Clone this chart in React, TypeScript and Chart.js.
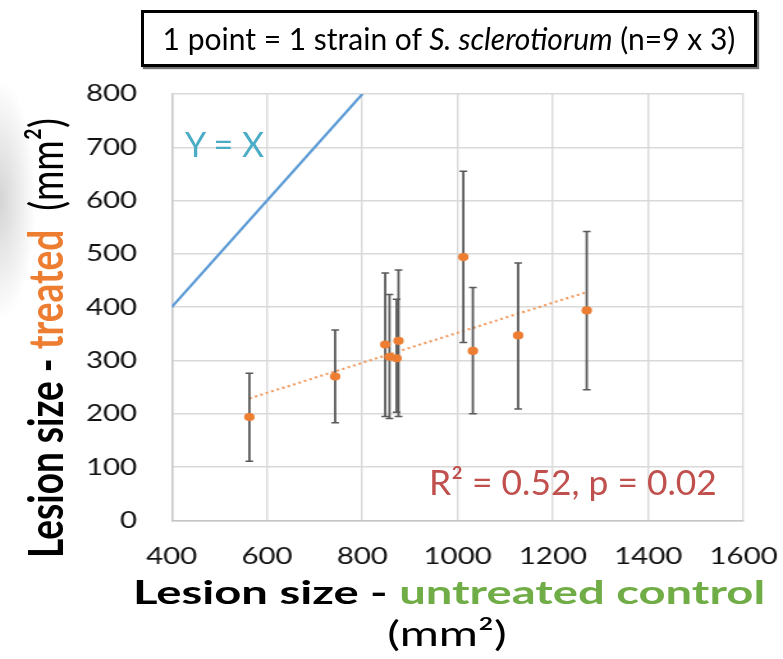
import React, { useEffect, useRef } from "react";
import { Chart, registerables } from "chart.js";

Chart.register(...registerables);

// ---- data ----
const controlX = [563, 743, 848, 857, 876, 872, 1012, 1032, 1127, 1271];
const treatedY = [194, 270, 330, 307, 337, 304, 494, 318, 347, 394];
const errLow = [111, 183, 195, 191, 195, 203, 334, 200, 209, 245];
const errHigh = [276, 357, 464, 424, 470, 415, 655, 437, 483, 542];
const identityX = [400, 800];
const xRange = [400, 1600];
const yRange = [0, 800];
const xStep = 200;
const yStep = 100;

// ---- layout ----
const STRETCH = 783 / 612;
const W0 = 612;
const H = 659;
const AREA_LEFT = 171.7 / STRETCH;
const AREA_RIGHT = 743.5 / STRETCH;
const AREA_TOP = 94;
const AREA_BOTTOM = 520.4;

function leastSquares(xs: number[], ys: number[]) {
  const n = xs.length;
  const mx = xs.reduce((a, b) => a + b, 0) / n;
  const my = ys.reduce((a, b) => a + b, 0) / n;
  let sxy = 0;
  let sxx = 0;
  for (let i = 0; i < n; i++) {
    sxy += (xs[i] - mx) * (ys[i] - my);
    sxx += (xs[i] - mx) * (xs[i] - mx);
  }
  const slope = sxy / sxx;
  return { slope, intercept: my - slope * mx };
}

export default function App() {
  const ref = useRef<HTMLCanvasElement>(null);

  useEffect(() => {
    if (!ref.current) return;
    const fit = leastSquares(controlX, treatedY);
    const xMin = Math.min(...controlX);
    const xMax = Math.max(...controlX);
    const trend = [
      { x: xMin, y: fit.intercept + fit.slope * xMin },
      { x: xMax, y: fit.intercept + fit.slope * xMax },
    ];
    const points = controlX.map((x, i) => ({ x, y: treatedY[i] }));
    const errorSets = controlX.map((x, i) => ({
      type: "line" as const,
      data: [
        { x, y: errLow[i] },
        { x, y: errHigh[i] },
      ],
      borderColor: "#595959",
      borderWidth: 1.8,
      pointStyle: "line" as const,
      pointRadius: 3,
      pointBorderWidth: 1.5,
      pointBorderColor: "#595959",
      pointBackgroundColor: "#595959",
      order: 1,
    }));

    const chart = new Chart(ref.current, {
      type: "scatter",
      data: {
        datasets: [
          {
            type: "scatter",
            data: points,
            backgroundColor: "#ED7D31",
            borderColor: "#ED7D31",
            pointRadius: 4.1,
            pointBorderWidth: 0,
            order: 0,
          },
          ...errorSets,
          {
            type: "line",
            data: trend,
            borderColor: "#F29B5E",
            borderWidth: 2.2,
            borderDash: [2, 2.6],
            pointRadius: 0,
            order: 2,
          },
          {
            type: "line",
            data: identityX.map((v) => ({ x: v, y: v })),
            borderColor: "#5B9BD5",
            borderWidth: 2.2,
            pointRadius: 0,
            order: 3,
          },
        ] as any,
      },
      options: {
        animation: false,
        responsive: false,
        maintainAspectRatio: false,
        devicePixelRatio: 1,
        layout: {
          padding: { top: AREA_TOP, right: W0 - AREA_RIGHT, left: 0, bottom: 0 },
        },
        plugins: {
          legend: { display: false },
          tooltip: { enabled: false },
        },
        scales: {
          x: {
            type: "linear",
            min: xRange[0],
            max: xRange[1],
            ticks: {
              stepSize: xStep,
              padding: 22,
              maxRotation: 0,
              minRotation: 0,
              color: "#111",
              font: { family: "Lato", size: 23 },
              callback: (v: any) => String(v),
            },
            grid: { color: "#D9D9D9", lineWidth: 1.4, drawTicks: false },
            border: { color: "#C6C6C6", width: 1.4 },
            afterFit: (s: any) => {
              s.height = H - AREA_BOTTOM;
              s.paddingLeft = 0;
              s.paddingRight = 0;
            },
          },
          y: {
            type: "linear",
            min: yRange[0],
            max: yRange[1],
            ticks: {
              stepSize: yStep,
              padding: 27,
              color: "#111",
              font: { family: "Lato", size: 23 },
              callback: (v: any) => String(v),
            },
            grid: { color: "#D9D9D9", lineWidth: 1.6, drawTicks: false },
            border: { color: "#C6C6C6", width: 1.4 },
            afterFit: (s: any) => {
              s.width = AREA_LEFT;
              s.paddingTop = 0;
              s.paddingBottom = 0;
            },
          },
        },
      },
    });
    return () => chart.destroy();
  }, []);

  return (
    <div
      style={{
        position: "absolute",
        left: 0,
        top: 0,
        width: 783,
        height: 659,
        overflow: "hidden",
        background: "#fff",
        fontFamily: "Lato, 'Open Sans', sans-serif",
      }}
    >
      <div
        style={{
          position: "absolute",
          left: 0,
          top: 80,
          width: 60,
          height: 260,
          background:
            "radial-gradient(ellipse 36px 120px at 0px 120px, rgba(0,0,0,0.17), rgba(0,0,0,0) 100%)",
        }}
      />
      <div
        style={{
          position: "absolute",
          left: 0,
          top: 0,
          width: W0,
          height: H,
          transform: `scaleX(${STRETCH})`,
          transformOrigin: "0 0",
        }}
      >
        <canvas ref={ref} width={W0} height={H} style={{ display: "block" }} />
        <div
          style={{
            position: "absolute",
            left: 35,
            top: 338,
            transform: "translate(-50%, -50%) rotate(-90deg)",
            whiteSpace: "nowrap",
            fontSize: 37,
            lineHeight: 1,
            color: "#000",
          }}
        >
          <span style={{ fontWeight: 700 }}>Lesion size - </span>
          <span style={{ fontWeight: 700, color: "#ED7D31" }}>treated</span>
          <span style={{ fontWeight: 400 }}>{"\u00a0\u00a0(mm\u00b2)"}</span>
        </div>
      </div>

      <div
        style={{
          position: "absolute",
          left: 133,
          top: 575,
          whiteSpace: "nowrap",
          fontSize: 33,
          lineHeight: 1,
          fontWeight: 700,
          color: "#000",
          transform: "scaleX(1.43)",
          transformOrigin: "0 0",
        }}
      >
        Lesion size - <span style={{ color: "#70AD47" }}>untreated control</span>
      </div>
      <div
        style={{
          position: "absolute",
          left: 297,
          width: 300,
          top: 616,
          textAlign: "center",
          whiteSpace: "nowrap",
          fontSize: 34,
          lineHeight: 1,
          color: "#000",
          transform: "scaleX(1.4)",
          transformOrigin: "50% 0",
        }}
      >
        (mm²)
      </div>

      <div
        style={{
          position: "absolute",
          left: 141,
          top: 10,
          width: 616,
          height: 57,
          boxSizing: "border-box",
          border: "3px solid #000",
          boxShadow: "2px 2px 1px rgba(0,0,0,0.55)",
          background: "#fff",
        }}
      />
      <div
        style={{
          position: "absolute",
          left: 141,
          top: 23,
          width: 616,
          textAlign: "center",
          fontSize: 30,
          lineHeight: 1,
          color: "#000",
          whiteSpace: "nowrap",
        }}
      >
        1 point = 1 strain of <i>S. sclerotiorum</i> (n=9 x 3)
      </div>

      <div
        style={{
          position: "absolute",
          left: 185,
          top: 127,
          fontSize: 34,
          lineHeight: 1,
          color: "#4BACC6",
          whiteSpace: "nowrap",
        }}
      >
        Y = X
      </div>
      <div
        style={{
          position: "absolute",
          left: 429,
          top: 465,
          fontSize: 34,
          lineHeight: 1,
          color: "#C0504D",
          whiteSpace: "nowrap",
          transform: "scaleX(1.04)",
          transformOrigin: "0 0",
        }}
      >
        R² = 0.52, p = 0.02
      </div>
    </div>
  );
}
